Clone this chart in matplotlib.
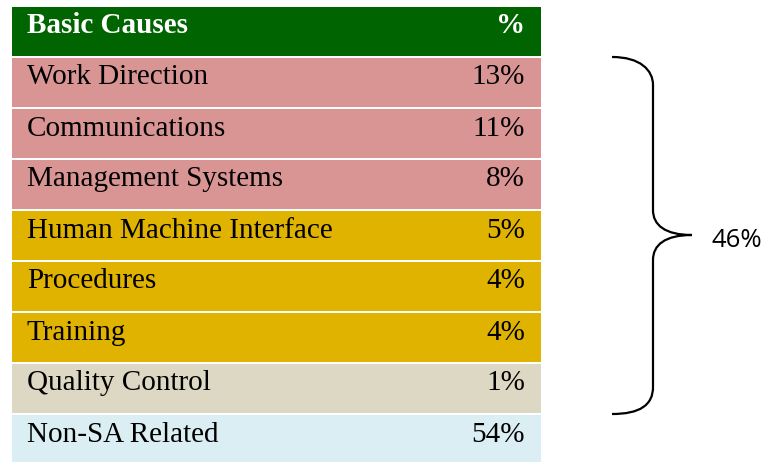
import matplotlib
matplotlib.use("Agg")
import matplotlib.pyplot as plt
from matplotlib.path import Path
from matplotlib.patches import PathPatch

# table data
causes = ["Work Direction", "Communications", "Management Systems",
          "Human Machine Interface", "Procedures", "Training",
          "Quality Control", "Non-SA Related"]
percents = [13, 11, 8, 5, 4, 4, 1, 54]
row_colors = ["#D99594", "#D99594", "#D99594",
              "#DFB300", "#DFB300", "#DFB300",
              "#DDD8C3", "#DAEEF3"]
header = ["Basic Causes", "%"]
sa_total = "46%"

fig = plt.figure(figsize=(7.65, 4.62), dpi=100)
ax = fig.add_axes([0, 0, 1, 1])
ax.set_xlim(0, 765)
ax.set_ylim(462, 0)
ax.axis("off")

left, width = 12, 529
top0, row_h, gap = 58, 51, 2
serif = "Liberation Serif"
fs = 21

# header
ax.barh(7 + 24.5, width, left=left, height=49, color="#006400")
ax.text(27, 7 + 26, header[0], fontsize=fs, fontweight="bold", color="white",
        family=serif, va="baseline")
ax.text(525, 7 + 26, header[1], fontsize=fs, fontweight="bold", color="white",
        family=serif, va="baseline", ha="right")

# rows
for i, (c, p, col) in enumerate(zip(causes, percents, row_colors)):
    top = top0 + row_h * i
    ax.barh(top + (row_h - gap) / 2, width, left=left, height=row_h - gap, color=col)
    ax.text(27, top + 26.5, c, fontsize=fs, family=serif, va="baseline")
    ax.text(525, top + 26.5, f"{p}%", fontsize=fs, family=serif, va="baseline", ha="right")

# brace
verts = [(612, 57), (640, 57), (653, 70), (653, 85),
         (653, 210),
         (653, 225), (665, 235), (692, 235),
         (665, 235), (653, 245), (653, 260),
         (653, 387),
         (653, 405), (640, 414), (612, 414)]
codes = [Path.MOVETO, Path.CURVE4, Path.CURVE4, Path.CURVE4,
         Path.LINETO,
         Path.CURVE4, Path.CURVE4, Path.CURVE4,
         Path.CURVE4, Path.CURVE4, Path.CURVE4,
         Path.LINETO,
         Path.CURVE4, Path.CURVE4, Path.CURVE4]
ax.add_patch(PathPatch(Path(verts, codes), fill=False, lw=1.6, color="black"))
ax.text(712, 247, sa_total, fontsize=18.5, family="Open Sans", va="baseline")

fig.savefig("out.png", dpi=100)
